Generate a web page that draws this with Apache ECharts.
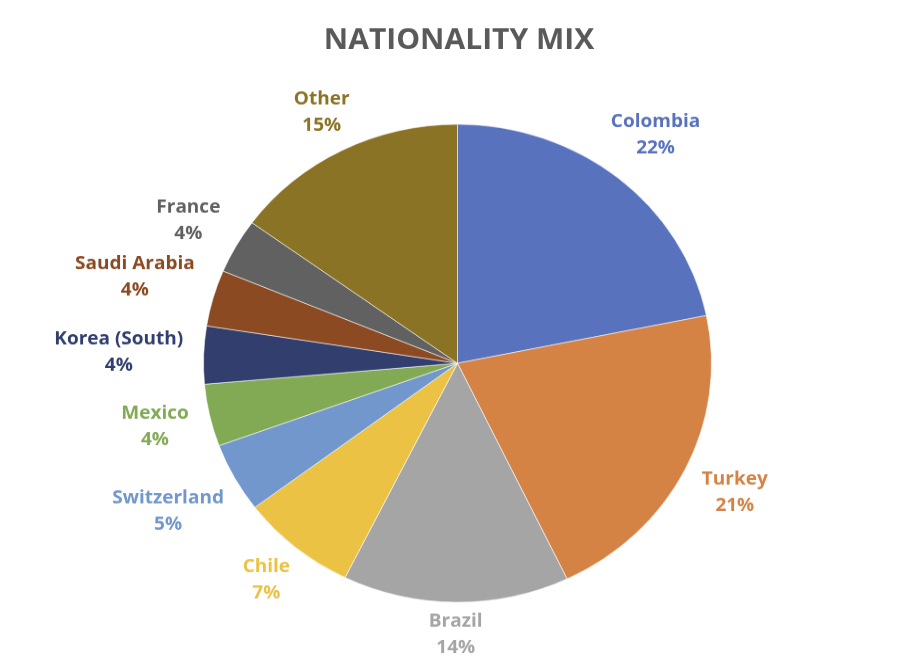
<!DOCTYPE html>
<html>
<head>
<meta charset="utf-8">
<title>Nationality Mix</title>
<script src="https://cdn.jsdelivr.net/npm/echarts@6/dist/echarts.min.js"></script>
<style>
  html, body { margin: 0; padding: 0; background: #fff; overflow: hidden; }
  .wrap { width: 918px; height: 666px; overflow: hidden; }
  /* the original picture is a little wider than tall, so the pie is an ellipse:
     draw it round and squash the whole chart vertically */
  #chart { width: 918px; height: 708px; transform: scaleY(0.941); transform-origin: 0 0; }
</style>
</head>
<body>
<div class="wrap"><div id="chart"></div></div>
<script>
// nationality shares (percent)
const countries = ['Colombia', 'Turkey', 'Brazil', 'Chile', 'Switzerland', 'Mexico', 'Korea (South)', 'Saudi Arabia', 'France', 'Other']
const shares = [21.8, 21.1, 14.4, 7.4, 4.7, 4.2, 3.9, 3.8, 3.7, 15.0]
const colors = ['#5872BD', '#D58245', '#A5A5A5', '#ECC244', '#7197CD', '#82AA55', '#323F6E', '#8B4A22', '#616161', '#8B7325']

const center = [457.5, 386]
const radius = 254
const labelGap = 20

let myChart = echarts.init(document.getElementById('chart'))
myChart.setOption({
  animation: false,
  title: {
    text: 'NATIONALITY MIX',
    left: 'center',
    top: 23,
    textStyle: {
      color: '#595959',
      fontFamily: 'Open Sans',
      fontWeight: 'bold',
      fontSize: 30
    }
  },
  series: [{
    name: 'mix',
    type: 'pie',
    center: center,
    radius: radius,
    startAngle: 90,
    clockwise: true,
    silent: true,
    itemStyle: {
      borderColor: 'rgba(255,255,255,0.7)',
      borderWidth: 0.8
    },
    labelLine: { show: false },
    label: {
      show: true,
      position: 'inside',
      rotate: 0,
      fontFamily: 'Open Sans',
      fontWeight: 'bold',
      fontSize: 19,
      lineHeight: 28,
      formatter: p => p.name + '\n' + Math.round(p.percent) + '%'
    },
    // push each label out along its slice's middle angle until it clears the edge
    // (only about half the box height counts, the line height adds empty space)
    labelLayout: params => {
      let r = params.labelRect
      let dx = r.x + r.width / 2 - center[0]
      let dy = r.y + r.height / 2 - center[1]
      let len = Math.sqrt(dx * dx + dy * dy) || 1
      let ux = dx / len
      let uy = dy / len
      let d = radius + labelGap + Math.abs(ux) * r.width / 2 + Math.abs(uy) * r.height / 4
      return { x: center[0] + ux * d, y: center[1] + uy * d }
    },
    data: countries.map((name, i) => ({
      name: name,
      value: shares[i],
      itemStyle: { color: colors[i] },
      label: { color: colors[i] }
    }))
  }]
})
</script>
</body>
</html>
